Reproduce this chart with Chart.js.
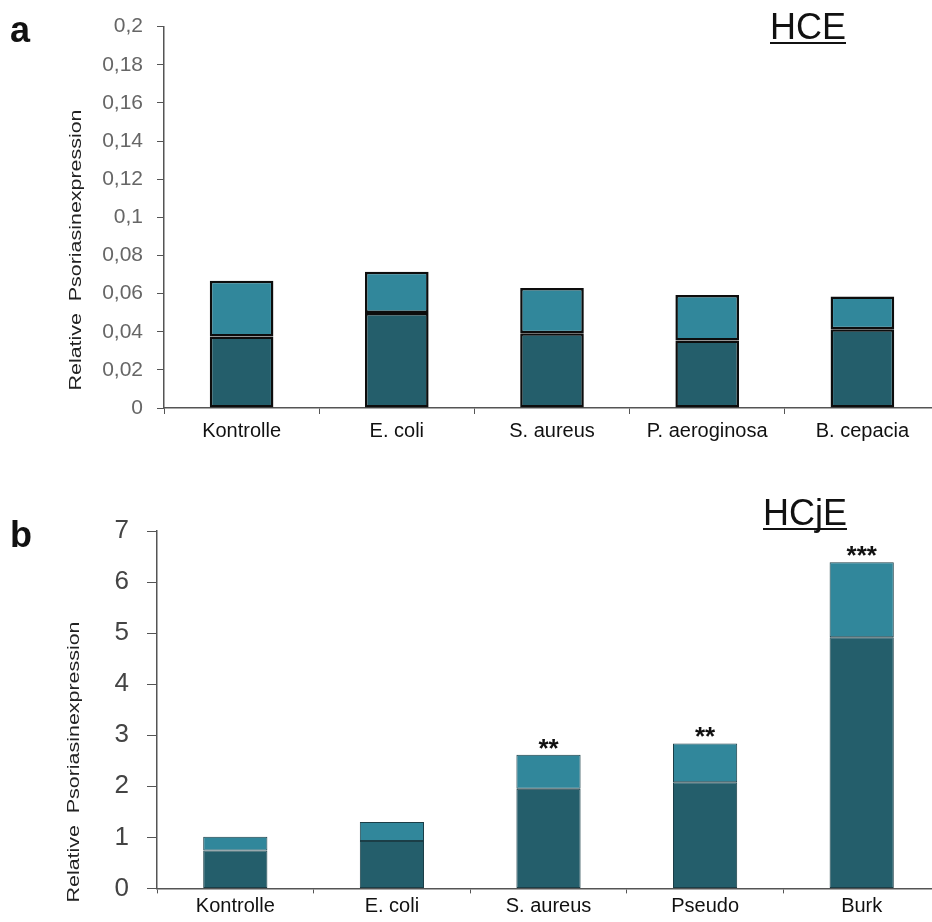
<!DOCTYPE html>
<html>
<head>
<meta charset="utf-8">
<script src="https://cdn.jsdelivr.net/npm/chart.js"></script>
<style>
html, body { margin: 0; padding: 0; background: #fff; overflow: hidden; width: 932px; height: 922px; }
.panel { position: absolute; left: 0; width: 945px; }
#panelA { top: 0; height: 460px; }
#panelB { top: 460px; height: 462px; }
</style>
</head>
<body>
<div class="panel" id="panelA"><canvas id="chartA"></canvas></div>
<div class="panel" id="panelB"><canvas id="chartB"></canvas></div>
<script>
// panel a (HCE)
const categoriesA = ['Kontrolle', 'E. coli', 'S. aureus', 'P. aeroginosa', 'B. cepacia'];
const lowerA = [0.0375, 0.0498, 0.0392, 0.0354, 0.0413];
const upperA = [0.0292, 0.0217, 0.0237, 0.0238, 0.0172];
const tickLabelsA = ['0', '0,02', '0,04', '0,06', '0,08', '0,1', '0,12', '0,14', '0,16', '0,18', '0,2'];

// panel b (HCjE)
const categoriesB = ['Kontrolle', 'E. coli', 'S. aureus', 'Pseudo', 'Burk'];
const lowerB = [0.74, 0.93, 1.95, 2.08, 4.92];
const upperB = [0.27, 0.37, 0.67, 0.76, 1.47];
const tickLabelsB = ['0', '1', '2', '3', '4', '5', '6', '7'];
const starsB = ['', '', '**', '**', '***'];

const FONT = '"Liberation Sans", Arial, sans-serif';
const dark = '#245e6b';
const light = '#31879b';
const axisColor = '#555';

const decor = {
    id: 'decor',
    afterDraw(chart, args, o) {
        const ctx = chart.ctx;
        ctx.save();
        ctx.fillStyle = '#111';
        ctx.textAlign = 'left';
        ctx.textBaseline = 'alphabetic';
        ctx.font = 'bold 36px ' + FONT;
        ctx.fillText(o.letter, o.letterX, o.letterY);

        ctx.font = '36px ' + FONT;
        ctx.fillText(o.heading, o.headX, o.headY);
        const w = ctx.measureText(o.heading).width;
        ctx.fillRect(o.headX, o.headY + 3, w, 2);

        // stars over the bar tops
        if (o.stars) {
            const meta = chart.getDatasetMeta(chart.data.datasets.length - 1);
            ctx.font = 'bold 26px ' + FONT;
            ctx.textAlign = 'center';
            meta.data.forEach((bar, i) => {
                if (o.stars[i]) ctx.fillText(o.stars[i], bar.x, bar.y + 2);
            });
        }

        // y axis title
        ctx.translate(o.titleX, o.titleY);
        ctx.rotate(-Math.PI / 2);
        ctx.scale(1.26, 1);
        ctx.font = '17px ' + FONT;
        ctx.fillStyle = '#222';
        ctx.textAlign = 'center';
        ctx.textBaseline = 'middle';
        ctx.fillText('Relative  Psoriasinexpression', 0, 0);
        ctx.restore();
    }
};

function makeChart(id, cfg) {
    return new Chart(document.getElementById(id), {
        type: 'bar',
        data: {
            labels: cfg.labels,
            datasets: [
                { data: cfg.lower, backgroundColor: dark, borderColor: cfg.border, borderWidth: cfg.bw, borderSkipped: false },
                { data: cfg.upper, backgroundColor: light, borderColor: cfg.border, borderWidth: cfg.bw, borderSkipped: false }
            ]
        },
        options: {
            responsive: true,
            maintainAspectRatio: false,
            animation: false,
            layout: { padding: { top: cfg.top, right: 5, bottom: 0, left: 0 } },
            datasets: { bar: { barPercentage: 0.41, categoryPercentage: 1 } },
            plugins: { legend: { display: false }, tooltip: { enabled: false }, decor: cfg.decor },
            scales: {
                x: {
                    stacked: true,
                    afterFit: s => { s.height = cfg.xh; },
                    border: { display: true, color: axisColor, width: 1.5 },
                    grid: { display: true, drawOnChartArea: false, drawTicks: true, tickLength: cfg.xtl, color: axisColor, offset: true },
                    ticks: { color: '#111', font: { family: FONT, size: 20 }, padding: cfg.xpad, maxRotation: 0, autoSkip: false }
                },
                y: {
                    stacked: true,
                    min: 0,
                    max: cfg.max,
                    afterFit: s => { s.width = cfg.yw; },
                    border: { display: true, color: axisColor, width: 1.5 },
                    grid: { display: true, drawOnChartArea: false, drawTicks: true, tickLength: cfg.ytl, color: axisColor },
                    ticks: {
                        stepSize: cfg.step,
                        color: cfg.tickColor,
                        font: { family: FONT, size: cfg.tickSize },
                        padding: cfg.ypad,
                        callback: (v, i) => cfg.tickLabels[i]
                    }
                }
            }
        },
        plugins: [decor]
    });
}

makeChart('chartA', {
    labels: categoriesA, lower: lowerA, upper: upperA, tickLabels: tickLabelsA,
    max: 0.2, step: 0.02, top: 24, xh: 52, yw: 164, xtl: 6, xpad: 5, ytl: 7, ypad: 14,
    tickColor: '#666', tickSize: 21, border: '#0d0d0d', bw: 2.5,
    decor: { letter: 'a', letterX: 10, letterY: 42, heading: 'HCE', headX: 770, headY: 39, titleX: 76, titleY: 250 }
});

makeChart('chartB', {
    labels: categoriesB, lower: lowerB, upper: upperB, tickLabels: tickLabelsB,
    max: 7, step: 1, top: 71, xh: 26, yw: 157, xtl: 5, xpad: 1, ytl: 10, ypad: 18,
    tickColor: '#444', tickSize: 26, border: '#1b3e47', bw: 1,
    decor: { letter: 'b', letterX: 10, letterY: 87, heading: 'HCjE', headX: 763, headY: 65, titleX: 74, titleY: 302, stars: starsB }
});
</script>
</body>
</html>
